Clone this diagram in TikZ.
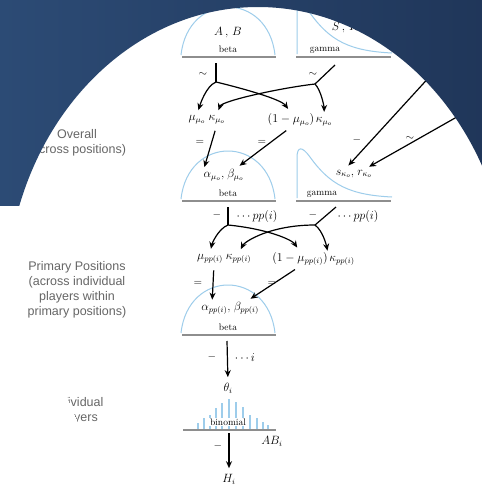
\documentclass[tikz,border=0pt]{standalone}
\usepackage{fontspec}
\newfontfamily\sidefont{Liberation Sans}
\usepackage{tikz}
\usetikzlibrary{arrows.meta,positioning}
\definecolor{slidelt}{HTML}{2C4B75}
\definecolor{slidedk}{HTML}{1F3558}
\definecolor{distc}{HTML}{9ECDEB}
\definecolor{basec}{HTML}{8E8E8E}
\definecolor{sidec}{HTML}{666666}
\tikzset{
  ar/.style={-{Stealth[length=7pt,width=6pt]},line width=1.2pt,shorten >=5pt},
  stem/.style={line width=1.2pt},
  distcurve/.style={distc,line width=1pt},
  baseln/.style={basec,line width=1.6pt},
  pmfbar/.style={distc,line width=1.4pt},
  lbl/.style={inner sep=0.6pt,font=\fontsize{12}{14}\selectfont},
  sm/.style={inner sep=1pt,font=\fontsize{9.5}{10}\selectfont},
  rel/.style={inner sep=1pt,font=\fontsize{11}{12}\selectfont},
  sidetxt/.style={align=center,text=sidec,font=\sidefont\fontsize{12.5}{15}\selectfont}
}

\begin{document}
\begin{tikzpicture}[x=1pt,y=-1pt]
\useasboundingbox (0,0) rectangle (482,485);
\fill[white] (0,0) rectangle (482,485);

% distribution icons
\foreach \by in {57,201,335}{
  \draw[distcurve] (181,\by-2) .. controls (188,\by-66) and (268,\by-66) .. (275,\by-2);
  \draw[baseln] (182,\by) -- (276,\by);
}
\foreach \by in {57,201}{
  \draw[distcurve] (297,\by-3) -- (297,\by-43) .. controls (297,\by-55) and (302,\by-55) .. (310,\by-44)
    .. controls (330,\by-16) and (350,\by-6) .. (392,\by-4);
  \draw[baseln] (296,\by) -- (391,\by);
}
\foreach \bx/\bt in {198/423,204/418,210/415,216/408,222/403,229/399,236/402,243/407,250/415,257/418,263/422,268/425}
  \draw[pmfbar] (\bx,429) -- (\bx,\bt);
\draw[baseln] (183,430) -- (276,430);

% labels
\node[lbl] (AB) at (228,33) {$A\,,\,B$};
\node[sm] (bt1) at (228,49) {beta};
\node[lbl] (SR) at (345,28) {$S\,,\,R$};
\node[sm] (gm1) at (325,50) {gamma};

\node[lbl] (mu1) at (197,120) {$\mu_{\mu_o}$};
\node[lbl,base right=1.5pt of mu1] (ka1) {$\kappa_{\mu_o}$};
\node[lbl] (om1) at (291,120) {$(1-\mu_{\mu_o})$};
\node[lbl,base right=0pt of om1] (ka1b) {$\kappa_{\mu_o}$};

\node[lbl] (al2) at (214,177) {$\alpha_{\mu_o},$};
\node[lbl,base right=1.5pt of al2] (be2) {$\beta_{\mu_o}$};
\node[sm] (bt2) at (228,193) {beta};
\node[lbl] (s2) at (345,174) {$s_{\kappa_o},$};
\node[lbl,base right=1.5pt of s2] (r2) {$r_{\kappa_o}$};
\node[sm] (gm2) at (322,194) {gamma};

\node[lbl] (mu3) at (210,259) {$\mu_{pp(i)}$};
\node[lbl,base right=1.5pt of mu3] (ka3) {$\kappa_{pp(i)}$};
\node[lbl] (om3) at (300,259) {$(1-\mu_{pp(i)})$};
\node[lbl,base right=0pt of om3] (ka3b) {$\kappa_{pp(i)}$};

\node[lbl] (al3) at (216,310) {$\alpha_{pp(i)},$};
\node[lbl,base right=1.5pt of al3] (be3) {$\beta_{pp(i)}$};
\node[sm] (bt3) at (228,327) {beta};

\node[lbl] (th) at (228,388) {$\theta_i$};
\node[sm,fill=white] (bin) at (228,422) {binomial};
\node[lbl] (ABi) at (272,441) {$AB_i$};
\node[lbl] (H) at (229,479) {$H_i$};

% overall level
\coordinate (tA1) at (216,63);
\coordinate (bA1) at (216,82);
\coordinate (tS1) at (335,65);
\coordinate (bS1) at (315,84);
\draw[stem] (tA1) -- (bA1);
\draw[stem] (tS1) -- (bS1);
\node[rel] at (203,74) {$\sim$};
\node[rel] at (313,74) {$\sim$};
\draw[ar] (bA1) .. controls +(-10,4) and +(3,-10) .. (mu1.north);
\draw[ar] (bA1) .. controls +(25,6) and +(-10,-14) .. (om1.north);
\draw[ar] (bS1) .. controls +(6,6) and +(0,-10) .. (ka1b.north);
\draw[ar] (bS1) .. controls +(-35,4) and +(5,-14) .. (ka1.north);

\node[rel] at (200,142) {$=$};
\node[rel] at (262,142) {$=$};
\node[rel] at (357,140) {$-$};
\node[rel] at (410,138) {$\sim$};
\draw[ar,shorten <=6pt] (ka1.south) -- (al2.north west);
\draw[ar,shorten <=6pt] (om1.south) -- (be2.north);
\coordinate (srcS) at (465,38);
\coordinate (srcR) at (478,105);
\draw[ar] (srcS) -- (s2.north);
\draw[ar] (srcR) -- (r2.north);

% primary positions level
\coordinate (tA2) at (228,207);
\coordinate (bA2) at (228,225);
\coordinate (tS2) at (336,207);
\coordinate (bS2) at (315,225);
\draw[stem] (tA2) -- (bA2);
\draw[stem] (tS2) -- (bS2);
\node[rel] at (217,215) {$-$};
\node[lbl] at (257,216) {$\cdots pp(i)$};
\node[rel] at (313,215) {$-$};
\node[lbl] at (358,216) {$\cdots pp(i)$};
\draw[ar] (bA2) .. controls +(-10,4) and +(2,-10) .. (mu3.north);
\draw[ar] (bA2) .. controls +(40,4) and +(-8,-12) .. (om3.north);
\draw[ar] (bS2) .. controls +(8,6) and +(-2,-10) .. (ka3b.north west);
\draw[ar] (bS2) .. controls +(-45,0) and +(6,-12) .. (ka3.north);

\node[rel] at (198,283) {$=$};
\node[rel] at (272,283) {$=$};
\draw[ar,shorten <=6pt] ([xshift=4pt]mu3.south) -- ([xshift=-4pt]al3.north);
\draw[ar,shorten <=6pt] (om3.south) -- (be3.north);

% individual players
\coordinate (tB3) at (227,341);
\draw[ar] (tB3) -- (th.north);
\node[rel] at (212,357) {$-$};
\node[lbl] at (245,358) {$\cdots i$};
\coordinate (tBin) at (229,433);
\draw[ar] (tBin) -- (H.north);
\node[rel] at (218,446) {$-$};

% level names
\node[sidetxt] (ovl) at (77,143) {Overall\\(across positions)};
\node[sidetxt] (ppos) at (77,290) {Primary Positions\\(across individual\\players within\\primary positions)};
\begin{scope}
  \clip (66,395) -- (140,395) -- (140,432) -- (82,432) -- cycle;
  \node[sidetxt] (indv) at (77,411) {Individual\\Players};
\end{scope}

% slide background
\begin{scope}
  \clip (0,0) rectangle (482,205);
  \shade[even odd rule,left color=slidelt,right color=slidedk]
    (0,-5) rectangle (482,230) (258,300) ellipse [x radius=252pt,y radius=293pt];
\end{scope}
\end{tikzpicture}
\end{document}
